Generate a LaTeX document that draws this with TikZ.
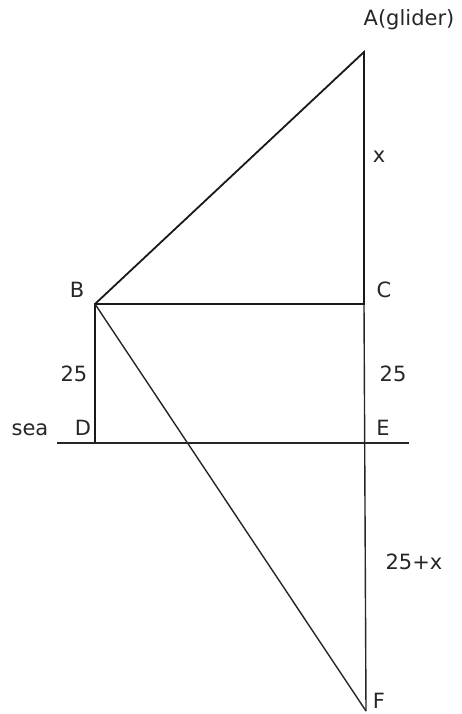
\documentclass[tikz,border=0pt]{standalone}
\usepackage{fontspec}
\setmainfont{DejaVu Sans}
\begin{document}
\begin{tikzpicture}[x=1pt,y=-1pt,
  thickline/.style={line width=1.8pt,black!90},
  thinline/.style={line width=1.4pt,black!85},
  lbl/.style={font=\fontsize{21}{24}\selectfont,text=black!85,inner sep=0pt}]
\useasboundingbox (0,0) rectangle (461,714);
\coordinate (A) at (364,52);
\coordinate (C) at (364,304);
\coordinate (B) at (95,304);
\coordinate (D) at (95,443);
\coordinate (E) at (365,443);
\coordinate (F) at (366,711);
\coordinate (S1) at (57,443);
\coordinate (S2) at (409,443);
\draw[thickline] (B) -- (A) -- (C) -- (B) -- (D);
\draw[thinline] (S1) -- (S2);
\draw[thinline] (C) -- (F);
\draw[thinline] (B) -- (F);
\node[lbl] (lA) at (409,20) {A(glider)};
\node[lbl] (lx) at (379,157) {x};
\node[lbl] (lB) at (77,290) {B};
\node[lbl] (lC) at (384,290) {C};
\node[lbl] (l25a) at (74,374) {25};
\node[lbl] (l25b) at (393,374) {25};
\node[lbl,anchor=base] (lsea) at (30,435) {sea};
\node[lbl,anchor=base] (lD) at (83,435) {D};
\node[lbl,anchor=base] (lE) at (383,435) {E};
\node[lbl] (l25x) at (414,562) {25+x};
\node[lbl] (lF) at (379,701) {F};
\end{tikzpicture}
\end{document}
